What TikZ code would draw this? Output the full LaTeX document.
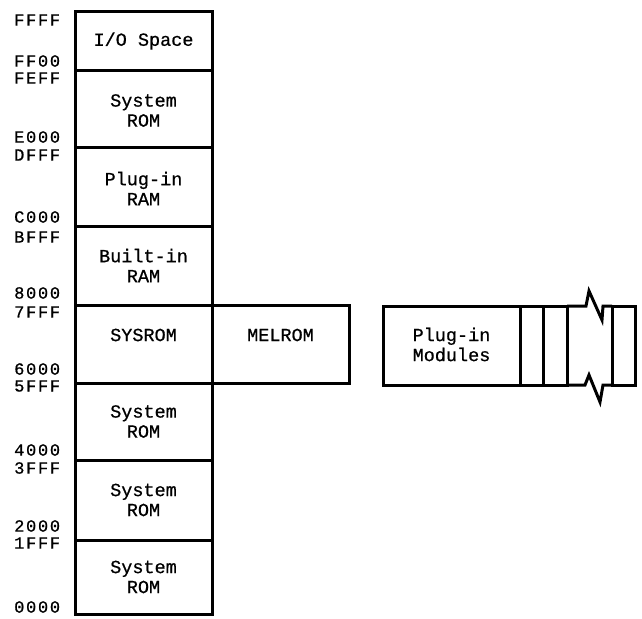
\documentclass[tikz,border=0pt]{standalone}
\usepackage{fontspec}
\setmonofont[FakeBold=0.7]{Liberation Mono}
\newfontfamily\addrfont[FakeBold=0.7,LetterSpace=10]{Liberation Mono}
\begin{document}
\begin{tikzpicture}[x=1pt,y=-1pt,
  blk/.style={draw, line width=3pt, rectangle, inner sep=0pt, outer sep=0pt},
  mainblk/.style={blk, minimum width=137pt},
  txt/.style={inner sep=0pt, align=center, font=\ttfamily\fontsize{18.5}{20}\selectfont},
  addr/.style={anchor=west, inner sep=0pt, font=\addrfont\fontsize{17}{17}\selectfont},
  brk/.style={line width=3pt, line join=miter}]
\useasboundingbox (0,0) rectangle (642,618);
% main column boxes
\node[mainblk, minimum height=58pt] (io)  at (143.5,41) {};
\node[mainblk, minimum height=77pt] (sr1) at (143.5,108.5) {};
\node[mainblk, minimum height=79pt] (pram) at (143.5,186.5) {};
\node[mainblk, minimum height=79pt] (bram) at (143.5,265.5) {};
\node[mainblk, minimum height=78pt] (sys) at (143.5,344) {};
\node[mainblk, minimum height=77pt] (sr2) at (143.5,421.5) {};
\node[mainblk, minimum height=80pt] (sr3) at (143.5,500) {};
\node[mainblk, minimum height=74pt] (sr4) at (143.5,577) {};
\node[mainblk, minimum height=78pt] (mel) at (280.5,344) {};
% plug-in modules
\node[blk, minimum width=137pt, minimum height=79pt] (mod) at (451.5,345.5) {};
\node[blk, minimum width=23pt, minimum height=79pt] (slot1) at (531.5,345.5) {};
\node[blk, minimum width=24pt, minimum height=79pt] (slot2) at (555,345.5) {};
\node[blk, minimum width=23pt, minimum height=79pt] (slot4) at (623.5,345.5) {};
\coordinate (t1) at (586,306);
\coordinate (t2) at (589,291);
\coordinate (t3) at (602,320);
\coordinate (t4) at (603,306);
\coordinate (b1) at (585,385);
\coordinate (b2) at (589,375);
\coordinate (b3) at (600,402);
\coordinate (b4) at (603,385);
\draw[brk] (slot2.north east) -- (t1) -- (t2) -- (t3) -- (t4) -- (slot4.north west);
\draw[brk] (slot2.south east) -- (b1) -- (b2) -- (b3) -- (b4) -- (slot4.south west);
% texts
\node[txt] (tio) at (io.center) {I/O Space};
\node[txt] (tsr1) at ([yshift=-2pt]sr1.center) {System\\ROM};
\node[txt] (tpram) at ([yshift=-2pt]pram.center) {Plug-in\\RAM};
\node[txt] (tbram) at (bram.center) {Built-in\\RAM};
\node[txt] (tsys) at ([yshift=9pt]sys.center) {SYSROM};
\node[txt] (tmel) at ([yshift=9pt]mel.center) {MELROM};
\node[txt] (tmod) at ([yshift=1pt]mod.center) {Plug-in\\Modules};
\node[txt] (tsr2) at (sr2.center) {System\\ROM};
\node[txt] (tsr3) at (sr3.center) {System\\ROM};
\node[txt] (tsr4) at (sr4.center) {System\\ROM};
% address labels
\node[addr] (a1) at (14,20) {FFFF};
\node[addr] (a2) at (14,61) {FF00};
\node[addr] (a3) at (14,78) {FEFF};
\node[addr] (a4) at (14,137) {E000};
\node[addr] (a5) at (14,155) {DFFF};
\node[addr] (a6) at (14,217) {C000};
\node[addr] (a7) at (14,237) {BFFF};
\node[addr] (a8) at (14,293) {8000};
\node[addr] (a9) at (14,312) {7FFF};
\node[addr] (a10) at (14,369) {6000};
\node[addr] (a11) at (14,386) {5FFF};
\node[addr] (a12) at (14,450) {4000};
\node[addr] (a13) at (14,468) {3FFF};
\node[addr] (a14) at (14,526) {2000};
\node[addr] (a15) at (14,543) {1FFF};
\node[addr] (a16) at (14,607) {0000};
\end{tikzpicture}
\end{document}
